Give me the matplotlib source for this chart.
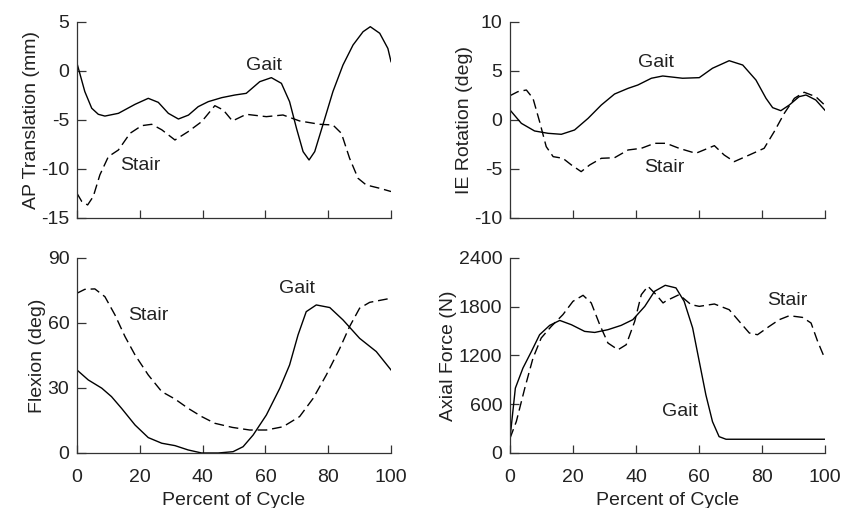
import numpy as np
import matplotlib
matplotlib.use('Agg')
import matplotlib.pyplot as plt

plt.rcParams['font.family'] = ['Liberation Sans', 'DejaVu Sans']
plt.rcParams['font.size'] = 14
plt.rcParams['axes.unicode_minus'] = False

#%% AP translation (mm)
ap_gait_x = [0, 2.5, 4.7, 6.8, 8.9, 13.2, 18.5, 22.7, 25.9, 29.1, 32.3, 35.5, 38.6, 41.8, 46.1, 50.3, 53.9, 58.2,
             61.9, 65.1, 67.7, 69.9, 72, 73.9, 75.7, 78.3, 81.5, 84.7, 87.9, 91.1, 93.4, 96.4, 99, 100]
ap_gait_y = [0.8, -2.1, -3.8, -4.42, -4.6, -4.32, -3.4, -2.79, -3.2, -4.32, -4.9, -4.5, -3.64, -3.13, -2.72, -2.45,
             -2.28, -1.09, -0.68, -1.26, -3.13, -5.85, -8.23, -9.08, -8.23, -5.5, -2.1, 0.61, 2.65, 4.01, 4.52, 3.85, 2.3, 0.95]
ap_stair_x = [0, 1.5, 3.4, 5.2, 7.3, 10, 13.2, 16.9, 20.6, 23.8, 27, 31.2, 35.4, 39.7, 43.9, 46.6, 49.5, 53.9,
              60.3, 65.6, 70.9, 77.3, 81.5, 84.2, 86.8, 89.5, 92.1, 96.4, 100]
ap_stair_y = [-12.48, -13.3, -13.67, -12.8, -10.6, -8.74, -8.06, -6.36, -5.58, -5.44, -6.0, -7.04, -6.19, -5.17,
              -3.54, -3.98, -5.1, -4.42, -4.66, -4.49, -5.1, -5.44, -5.51, -6.36, -8.9, -10.95, -11.63, -11.97, -12.3]

#%% IE rotation (deg)
ie_gait_x = [0, 3.6, 7.8, 12.1, 16.3, 20.5, 24.8, 29, 33.2, 37.5, 40.6, 44.9, 48.5, 54.8, 60.1, 64.3, 69.6, 73.9,
             78.1, 81.3, 83.4, 86, 88.7, 91.8, 94, 97.1, 100]
ie_gait_y = [1.02, -0.34, -1.12, -1.36, -1.46, -1.02, 0.17, 1.53, 2.65, 3.23, 3.57, 4.26, 4.49, 4.26, 4.32, 5.28,
             6.05, 5.61, 4.08, 2.21, 1.26, 0.95, 1.53, 2.38, 2.55, 2.04, 1.0]
ie_stair_x = [0, 2.5, 5.2, 7.3, 9.4, 11.5, 13.7, 16.8, 19.5, 22.6, 25.3, 29, 33.2, 37.5, 41.7, 45.9, 49.6, 53.7,
              59, 64.9, 68, 71.2, 76, 80.7, 83.9, 87.1, 90.3, 93.4, 97.1, 100]
ie_stair_y = [2.48, 2.89, 3.06, 2.21, -0.17, -2.72, -3.74, -3.91, -4.59, -5.27, -4.59, -3.91, -3.85, -3.06, -2.89,
              -2.38, -2.38, -2.89, -3.4, -2.62, -3.57, -4.25, -3.57, -2.89, -1.19, 0.68, 2.21, 2.83, 2.38, 1.5]

#%% flexion (deg)
fl_gait_x = [0, 3.6, 7.9, 11, 14.2, 18.5, 22.7, 27, 31.2, 35.4, 39.7, 45, 49.7, 52.9, 56.1, 60.3, 64.6, 67.7,
             70.4, 73, 76.2, 80.5, 84.7, 90, 95.3, 100]
fl_gait_y = [38.3, 33.7, 29.9, 26, 20.6, 12.9, 7.1, 4.5, 3.4, 1.4, 0, 0, 0.6, 2.9, 8.3, 17.5, 29.9, 40.6,
             54.5, 65.2, 68.3, 67.1, 61.4, 52.9, 46.8, 38.3]
fl_stair_x = [0, 2.5, 5.7, 8.9, 12.1, 15.3, 18.5, 22.7, 27, 31.2, 35.4, 39.7, 43.9, 49.5, 55, 60.3, 65.6, 70.9,
              75.2, 79.4, 83.7, 86.8, 90, 93.2, 100]
fl_stair_y = [73.7, 75.5, 75.7, 72.1, 63.7, 53.7, 45.2, 36, 28.3, 24.9, 20.6, 16.8, 13.7, 11.8, 10.6, 10.6, 12.1,
              16.8, 25.2, 36, 48.3, 58.3, 66.8, 69.5, 71.4]

#%% axial force (N)
af_gait_x = [0, 1.7, 4.1, 6.8, 9.4, 12.6, 15.8, 19.5, 23.7, 26.9, 31.1, 35.3, 39, 42.8, 45.9, 49.3, 52.7, 55.3,
             58, 60.1, 62.2, 64.3, 66.4, 68.6, 100]
af_gait_y = [181, 798, 1044, 1249, 1455, 1570, 1631, 1578, 1496, 1483, 1517, 1570, 1640, 1804, 1989, 2063, 2031,
             1866, 1538, 1126, 715, 386, 201, 169, 169]
af_stair_x = [0, 2, 4.7, 7.3, 9.9, 13.1, 16.8, 20, 23.2, 25.8, 28.5, 31.1, 34.3, 36.9, 39.6, 41.7, 43.8, 46.4,
              48.6, 49.5, 53.7, 57.5, 60.1, 64.9, 69.6, 72.8, 76, 78.6, 82.3, 85.5, 88.7, 92.9, 95.6, 97.7, 100]
af_stair_y = [181, 386, 798, 1167, 1414, 1557, 1702, 1866, 1940, 1846, 1578, 1353, 1270, 1332, 1619, 1948, 2051,
              1948, 1846, 1870, 1948, 1825, 1804, 1833, 1763, 1619, 1476, 1455, 1557, 1640, 1689, 1668, 1599, 1372, 1160]

panels = [
    dict(gx=ap_gait_x, gy=ap_gait_y, sx=ap_stair_x, sy=ap_stair_y, ylim=(-15, 5), yt=[-15, -10, -5, 0, 5],
         ylabel='AP Translation (mm)', gait=(59.5, 0.6), stair=(20.3, -9.6)),
    dict(gx=ie_gait_x, gy=ie_gait_y, sx=ie_stair_x, sy=ie_stair_y, ylim=(-10, 10), yt=[-10, -5, 0, 5, 10],
         ylabel='IE Rotation (deg)', gait=(46.3, 5.9), stair=(49, -4.8)),
    dict(gx=fl_gait_x, gy=fl_gait_y, sx=fl_stair_x, sy=fl_stair_y, ylim=(0, 90), yt=[0, 30, 60, 90],
         ylabel='Flexion (deg)', gait=(70, 76), stair=(22.7, 63.5)),
    dict(gx=af_gait_x, gy=af_gait_y, sx=af_stair_x, sy=af_stair_y, ylim=(0, 2400), yt=[0, 600, 1200, 1800, 2400],
         ylabel='Axial Force (N)', gait=(54, 505), stair=(88, 1880)),
]

fig = plt.figure(figsize=(8.42, 5.08), dpi=100)
rects = [(0.0914, 0.5709, 0.373, 0.3858), (0.6057, 0.5709, 0.374, 0.3858),
         (0.0914, 0.1083, 0.373, 0.384), (0.6057, 0.1083, 0.374, 0.384)]
txt = '#222222'

for i, p in enumerate(panels):
    ax = fig.add_axes(rects[i])
    ax.plot(p['gx'], p['gy'], color='black', lw=1.0)
    ax.plot(p['sx'], p['sy'], color='black', lw=1.0, linestyle=(0, (7, 3.5)))
    ax.set_xlim(0, 100)
    ax.set_ylim(*p['ylim'])
    ax.set_yticks(p['yt'])
    ax.set_xticks([0, 20, 40, 60, 80, 100])
    for s in ['top', 'right']:
        ax.spines[s].set_visible(False)
    for s in ['left', 'bottom']:
        ax.spines[s].set_linewidth(0.9)
        ax.spines[s].set_color('#333333')
    ax.tick_params(axis='y', direction='in', length=6.5, width=0.9, pad=5.5, colors='#333333', labelcolor=txt)
    ax.tick_params(axis='x', direction='in', length=6, width=0.9, pad=11.5, colors='#333333', labelcolor=txt)
    if i < 2:
        ax.tick_params(axis='x', labelbottom=False)
    else:
        ax.set_xlabel('Percent of Cycle', color=txt, labelpad=4)
    ax.set_ylabel(p['ylabel'], color=txt, labelpad=1)
    ax.text(p['gait'][0], p['gait'][1], 'Gait', ha='center', va='center', color=txt)
    ax.text(p['stair'][0], p['stair'][1], 'Stair', ha='center', va='center', color=txt)

fig.savefig('out.png', dpi=100)
